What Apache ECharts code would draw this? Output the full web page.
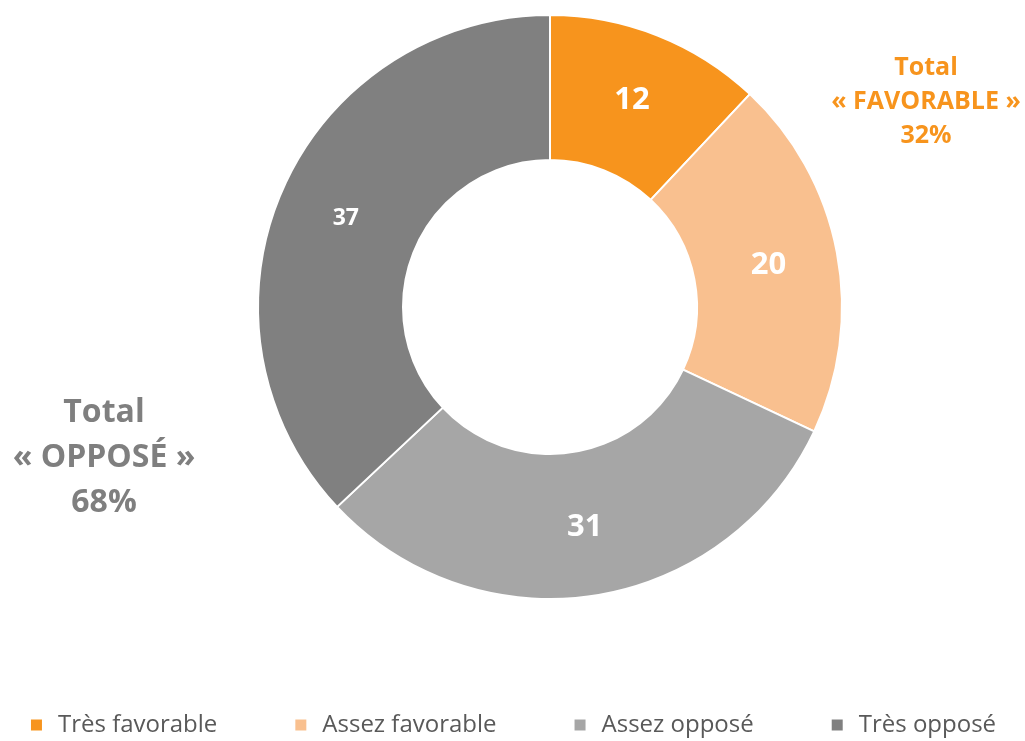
<!DOCTYPE html>
<html>
<head>
<meta charset="utf-8">
<script src="https://cdn.jsdelivr.net/npm/echarts@6/dist/echarts.min.js"></script>
<style>
  html, body { margin: 0; padding: 0; background: #fff; }
  #chart { width: 1025px; height: 741px; }
</style>
</head>
<body>
<div id="chart"></div>
<script>
  // data
  var categories = ['Très favorable', 'Assez favorable', 'Assez opposé', 'Très opposé'];
  var values = [12, 20, 31, 37];
  var colors = ['#F7941D', '#F9C08F', '#A6A6A6', '#808080'];
  var labelSizes = [31, 31, 31, 23];
  var totalFavorable = ['Total', '« FAVORABLE »', '32%'];
  var totalOppose = ['Total', '« OPPOSÉ »', '68%'];

  var font = '"Open Sans", "Liberation Sans", sans-serif';

  var chart = echarts.init(document.getElementById('chart'));
  chart.setOption({
    animation: false,
    color: colors,
    legend: {
      top: 708,
      left: 'center',
      itemWidth: 13,
      itemHeight: 13,
      itemGap: 76,
      icon: 'rect',
      textStyle: { fontFamily: font, fontSize: 24, color: '#595959', padding: [0, 0, 0, 10] },
      data: categories
    },
    graphic: [
      {
        type: 'text', x: 926, y: 102,
        style: {
          text: totalFavorable.join('\n'), align: 'center', verticalAlign: 'middle',
          font: 'bold 25px ' + font, fill: '#F7941D', lineHeight: 34
        }
      },
      {
        type: 'text', x: 104, y: 458,
        style: {
          text: totalOppose.join('\n'), align: 'center', verticalAlign: 'middle',
          font: 'bold 32px ' + font, fill: '#7F7F7F', lineHeight: 45
        }
      }
    ],
    series: [{
      type: 'pie',
      center: [550, 307],
      radius: [147, 292],
      startAngle: 90,
      clockwise: true,
      itemStyle: { borderColor: '#fff', borderWidth: 2 },
      label: {
        position: 'inside',
        fontFamily: font,
        fontWeight: 'bold',
        color: '#fff'
      },
      labelLine: { show: false },
      emphasis: { disabled: true },
      data: categories.map(function (c, i) {
        return { name: c, value: values[i], label: { fontSize: labelSizes[i], formatter: '{c}' } };
      })
    }]
  });
</script>
</body>
</html>
